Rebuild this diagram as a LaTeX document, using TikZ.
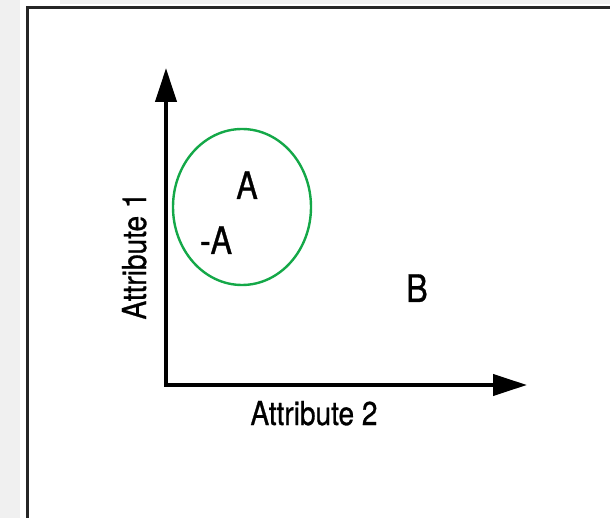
\documentclass[tikz,border=0pt]{standalone}
\usepackage{fontspec}
\setmainfont{TeX Gyre Heros}[FakeStretch=0.85, FakeBold=0.8]
\usetikzlibrary{arrows.meta, positioning}

\definecolor{clustergreen}{RGB}{20,168,72}
\definecolor{scangray}{RGB}{240,240,240}

\tikzset{
  axis/.style={line width=4pt, -{Triangle[length=34pt, width=21pt]}},
  frameline/.style={line width=3pt, black!85},
  axislabel/.style={anchor=base, inner sep=0pt, font=\fontsize{33}{36}\selectfont},
  pointlabel/.style={anchor=base, inner sep=0pt, font=\fontsize{38}{40}\selectfont}
}

\begin{document}
\begin{tikzpicture}[x=1pt, y=-1pt]
            \useasboundingbox (0,0) rectangle (610,518);
            % scan margins
            \fill[scangray] (0,0) rectangle (20,518);
            \fill[scangray] (60,0) rectangle (610,4);
            \draw[frameline] (27,518) -- (27,8) -- (610,8);

            \coordinate (origin) at (166,385);
            \coordinate (ytip) at (166,68);
            \coordinate (xtip) at (527,385);
            \draw[axis] (origin) -- (ytip);
            \draw[axis] ([xshift=-2pt]origin) -- (xtip);

            \node[axislabel] (attr2) at (314,425) {Attribute 2};
            \node[axislabel, rotate=90] (attr1) at (146,256) {Attribute 1};

            \draw[clustergreen, line width=2.4pt] (242,207) ellipse [x radius=69, y radius=78];

            \node[pointlabel] (a) at (247,199) {A};
            \node[pointlabel] (nota) at (216,254) {-A};
            \node[pointlabel] (b) at (417,302) {B};
\end{tikzpicture}
\end{document}
